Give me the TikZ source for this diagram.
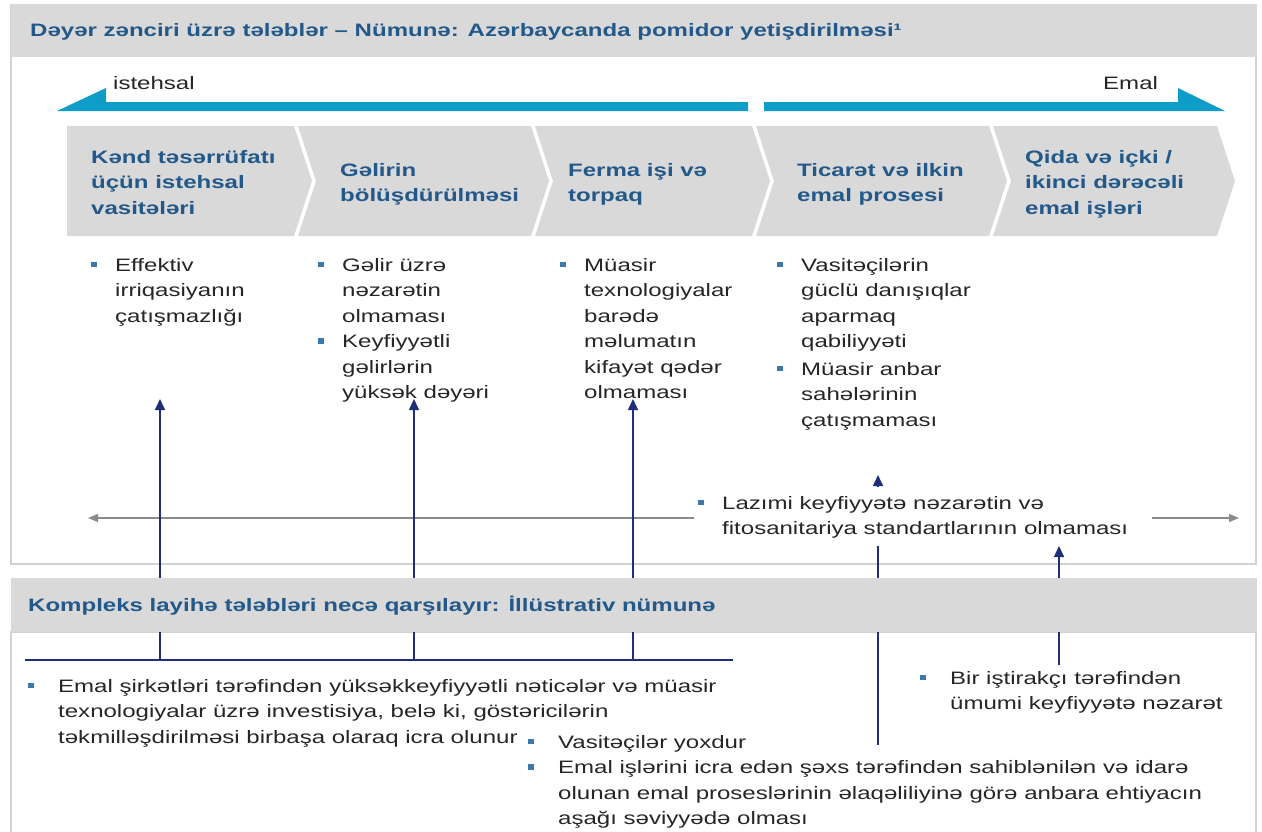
\documentclass[tikz,border=0pt]{standalone}
\usepackage{fontspec}
\setmainfont{Liberation Sans}[FakeStretch=1.335]
\usetikzlibrary{arrows.meta}
\definecolor{bandgray}{HTML}{D9D9D9}
\definecolor{bordergray}{HTML}{D2D2D2}
\definecolor{titleblue}{HTML}{23598A}
\definecolor{bulblue}{HTML}{3A78AE}
\definecolor{navy}{HTML}{1E2F78}
\definecolor{cyanarrow}{HTML}{0E9CC8}
\definecolor{txt}{HTML}{262626}
\definecolor{grayarrow}{HTML}{8A8A8A}
\newcommand\bsq{\textcolor{bulblue}{\rule[4pt]{5.5pt}{5.5pt}}}
\newcommand\tl[1]{\begin{tabular}[t]{@{}l@{}}#1\end{tabular}}
\newcommand\bla[1]{\begin{tabular}[t]{@{}l@{\hspace{18.5pt}}l@{}}#1\end{tabular}}
\newcommand\blb[1]{\begin{tabular}[t]{@{}l@{\hspace{24.5pt}}l@{}}#1\end{tabular}}
\newcommand\blc[1]{\begin{tabular}[t]{@{}l@{\hspace{18.5pt}}l@{\hspace{20pt}}}#1\end{tabular}}
\tikzset{
  hdr/.style={anchor=base west, inner sep=0pt, font=\fontsize{18}{25.5}\selectfont\bfseries, text=titleblue},
  ctext/.style={anchor=base west, inner sep=0pt, font=\fontsize{18}{25.5}\selectfont\bfseries, text=titleblue},
  btext/.style={anchor=base west, inner sep=0pt, font=\fontsize{18}{25.5}\selectfont, text=txt},
  lbl/.style={anchor=base west, inner sep=0pt, font=\fontsize{18}{25.5}\selectfont, text=txt},
  chev/.style={fill=bandgray, draw=none},
  band/.style={fill=bandgray, draw=none},
  panel/.style={draw=bordergray, line width=2pt, fill=white},
  flow/.style={fill=cyanarrow, draw=none},
  navyarrow/.style={draw=navy, line width=1.6pt, -{Triangle[length=11pt,width=10pt]}},
  navyline/.style={draw=navy, line width=1.6pt},
  garrow/.style={draw=grayarrow, line width=1.4pt, {Triangle[length=10pt,width=8pt]}-{Triangle[length=10pt,width=8pt]}}
}
\begin{document}
\begin{tikzpicture}[x=1pt,y=-1pt]
\useasboundingbox[fill=white] (0,0) rectangle (1262,831);
% panels
\draw[panel] (11,5) rectangle (1256,564);
\fill[band] (11,4) rectangle (1257,57);
\draw[panel] (11,632) rectangle (1256,840);
\node[hdr] (title) at (30,36) {Dəyər zənciri üzrə tələblər – Nümunə: Azərbaycanda pomidor yetişdirilməsi¹};
% flow arrows
\fill[flow] (57,111) -- (106,88) -- (106,102) -- (748,102) -- (748,111) -- cycle;
\fill[flow] (764,102) -- (1178,102) -- (1178,88) -- (1225,111) -- (764,111) -- cycle;
\node[lbl] (ist) at (113,89) {istehsal};
\node[lbl] (emal) at (1103,89) {Emal};
% chevrons
\fill[chev] (67,126) -- (294,126) -- (312,181) -- (294,236) -- (67,236) -- cycle;
\fill[chev] (298,126) -- (531,126) -- (549,181) -- (531,236) -- (298,236) -- (316,181) -- cycle;
\fill[chev] (535,126) -- (752,126) -- (770,181) -- (752,236) -- (535,236) -- (553,181) -- cycle;
\fill[chev] (756,126) -- (989,126) -- (1007,181) -- (989,236) -- (756,236) -- (774,181) -- cycle;
\fill[chev] (993,126) -- (1217,126) -- (1235,181) -- (1217,236) -- (993,236) -- (1011,181) -- cycle;
\node[ctext] (c1) at (91,163) {\tl{Kənd təsərrüfatı\\üçün istehsal\\vasitələri}};
\node[ctext] (c2) at (340,176) {\tl{Gəlirin\\bölüşdürülməsi}};
\node[ctext] (c3) at (568,176) {\tl{Ferma işi və\\torpaq}};
\node[ctext] (c4) at (797,176) {\tl{Ticarət və ilkin\\emal prosesi}};
\node[ctext] (c5) at (1025,163) {\tl{Qida və içki /\\ikinci dərəcəli\\emal işləri}};
% bullet lists
\node[btext] (b1) at (91,271) {\bla{\bsq & Effektiv\\ & irriqasiyanın\\ & çatışmazlığı}};
\node[btext] (b2) at (318,271) {\bla{\bsq & Gəlir üzrə\\ & nəzarətin\\ & olmaması\\ \bsq & Keyfiyyətli\\ & gəlirlərin\\ & yüksək dəyəri}};
\node[btext] (b3) at (560,271) {\bla{\bsq & Müasir\\ & texnologiyalar\\ & barədə\\ & məlumatın\\ & kifayət qədər\\ & olmaması}};
\node[btext] (b4) at (777,271) {\bla{\bsq & Vasitəçilərin\\ & güclü danışıqlar\\ & aparmaq\\ & qabiliyyəti\\[2pt] \bsq & Müasir anbar\\ & sahələrinin\\ & çatışmaması}};
% gray double arrow
\coordinate (gl) at (88,518);
\coordinate (gr) at (1239,518);
\draw[garrow] (gl) -- (gr);
% navy connectors
\coordinate (h1) at (25,660);
\coordinate (h2) at (733,660);
\coordinate (v1b) at (160,660);
\coordinate (v1t) at (160,399);
\coordinate (v2b) at (414,660);
\coordinate (v2t) at (414,399);
\coordinate (v3b) at (633,660);
\coordinate (v3t) at (633,399);
\coordinate (v4b) at (878,745);
\coordinate (v4t) at (878,475);
\coordinate (v5b) at (1059,665);
\coordinate (v5t) at (1059,546);
\draw[navyline] (h1) -- (h2);
\draw[navyarrow] (v1b) -- (v1t);
\draw[navyarrow] (v2b) -- (v2t);
\draw[navyarrow] (v3b) -- (v3t);
\draw[navyarrow] (v4b) -- (v4t);
\draw[navyarrow] (v5b) -- (v5t);
% quality text covering lines
\node[btext, fill=white, inner xsep=4pt, inner ysep=4pt] (lz) at (694,509) {\blc{\bsq & Lazımi keyfiyyətə nəzarətin və\\ & fitosanitariya standartlarının olmaması}};
% lower band
\fill[band] (11,578) rectangle (1257,632);
\node[hdr] (title2) at (28,611) {Kompleks layihə tələbləri necə qarşılayır: İllüstrativ nümunə};
% bottom texts
\node[btext] (e1) at (28,692) {\blb{\bsq & Emal şirkətləri tərəfindən yüksəkkeyfiyyətli nəticələr və müasir\\ & texnologiyalar üzrə investisiya, belə ki, göstəricilərin\\ & təkmilləşdirilməsi birbaşa olaraq icra olunur}};
\node[btext] (e2) at (528,748) {\blb{\bsq & Vasitəçilər yoxdur\\ \bsq & Emal işlərini icra edən şəxs tərəfindən sahiblənilən və idarə\\ & olunan emal proseslərinin əlaqəliliyinə görə anbara ehtiyacın\\ & aşağı səviyyədə olması}};
\node[btext] (e3) at (920,684) {\blb{\bsq & Bir iştirakçı tərəfindən\\ & ümumi keyfiyyətə nəzarət}};
\end{tikzpicture}
\end{document}
